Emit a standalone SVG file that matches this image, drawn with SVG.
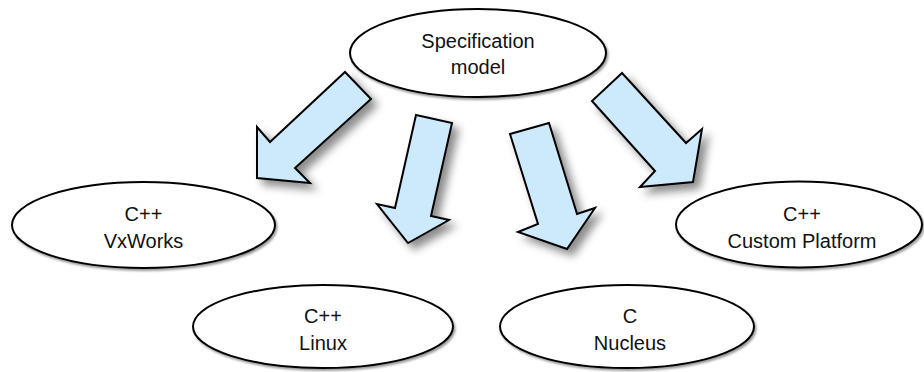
<svg xmlns="http://www.w3.org/2000/svg" width="924" height="372" viewBox="0 0 924 372">
  <style>
    .node ellipse { fill: #ffffff; stroke: #000000; stroke-width: 2; filter: url(#nshadow); }
    .node text { font-family: "Liberation Sans", Arial, sans-serif; font-size: 20px; fill: #111111; text-anchor: middle; }
    .arrow { fill: #cdeafd; stroke: #000000; stroke-width: 2; stroke-linejoin: miter; filter: url(#ashadow); }
  </style>
  <defs>
    <filter id="ashadow" x="-30%" y="-30%" width="160%" height="160%">
      <feDropShadow dx="6" dy="6" stdDeviation="4" flood-color="#000000" flood-opacity="0.45"/>
    </filter>
    <filter id="nshadow" x="-10%" y="-10%" width="120%" height="130%">
      <feDropShadow dx="1.5" dy="2" stdDeviation="1.2" flood-color="#000000" flood-opacity="0.4"/>
    </filter>
  </defs>
  <rect x="0" y="0" width="924" height="372" fill="#ffffff"/>

  <g id="connectors">
    <polygon class="arrow" points="345,72 371,99 295,168 310,183 257,178 257,127 270,142"/>
    <polygon class="arrow" points="416,115 452,123 431,216 449,220 408,243 377,204 395,208"/>
    <polygon class="arrow" points="510,134 549,123 577,214 595,208 567,249 518,232 538,224"/>
    <polygon class="arrow" points="622,73 592,101 655,171 640,187 693,182 702,129 686,143"/>
  </g>

  <g id="spec" class="node">
    <ellipse cx="478" cy="53" rx="128" ry="44"/>
    <text x="478" y="48">Specification</text>
    <text x="478" y="74">model</text>
  </g>
  <g id="vxworks" class="node">
    <ellipse cx="143.5" cy="225" rx="131.5" ry="43"/>
    <text x="143.5" y="221">C++</text>
    <text x="143.5" y="248">VxWorks</text>
  </g>
  <g id="linux" class="node">
    <ellipse cx="323" cy="326.5" rx="130" ry="41.5"/>
    <text x="323" y="323">C++</text>
    <text x="323" y="350">Linux</text>
  </g>
  <g id="nucleus" class="node">
    <ellipse cx="627" cy="326.5" rx="127" ry="41.5"/>
    <text x="630" y="323">C</text>
    <text x="630" y="350">Nucleus</text>
  </g>
  <g id="custom" class="node">
    <ellipse cx="799" cy="224.5" rx="123" ry="43"/>
    <text x="802" y="221">C++</text>
    <text x="802" y="248">Custom Platform</text>
  </g>
</svg>
